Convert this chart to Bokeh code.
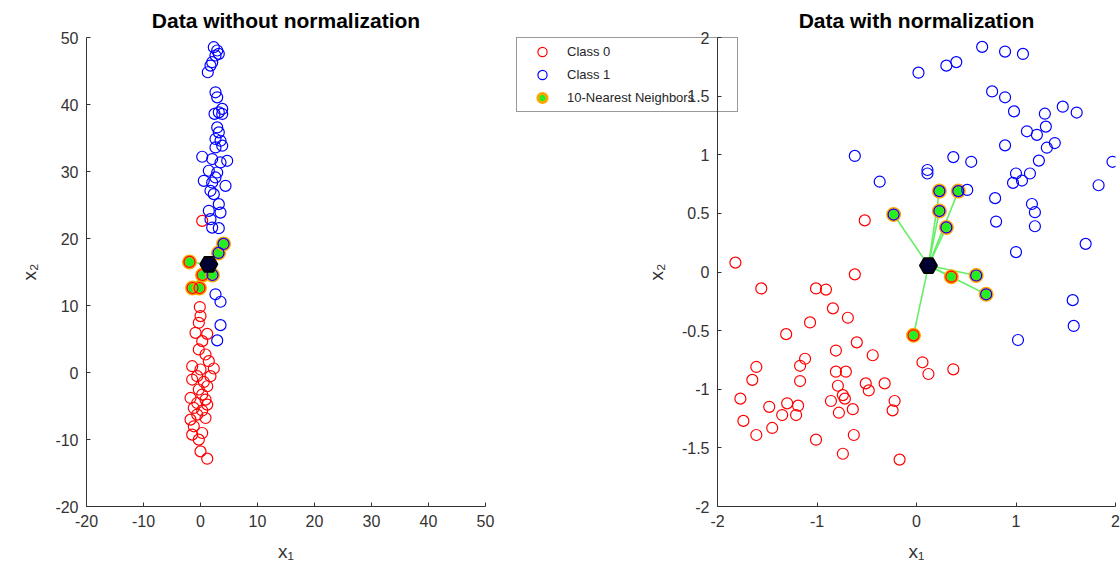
from bokeh.plotting import figure
from bokeh.models import Range1d, Legend, LegendItem, FixedTicker
from bokeh.layouts import row
from bokeh.embed import file_html
from bokeh.resources import INLINE

# ---------------- raw data (left panel) ----------------
raw_c0_x = [0.30, -0.12, 0.00, -0.30, -0.88, 1.18, 0.30, -0.30, 0.88, 1.46, -1.46, 0.00, 2.33,
            -0.58, 1.75, -1.46, 0.58, 1.18, -0.30, 0.30, -1.75, 0.88, -0.58, 1.18, -1.18, 0.30,
            -0.58, -1.75, 0.88, -1.18, 0.30, -1.46, -0.30, 0.00, 1.18]
raw_c0_y = [22.63, 9.77, 8.42, 7.42, 5.92, 5.77, 4.68, 3.44, 2.69, 1.69, 0.94, 0.45, 0.60,
            -0.55, -0.55, -1.05, -1.41, -2.05, -2.54, -3.29, -3.80, -4.04, -4.55, -4.79, -5.29, -5.68,
            -6.28, -7.03, -6.79, -8.03, -9.03, -9.27, -10.02, -11.77, -12.86]
raw_c1_x = [2.33, 2.93, 3.21, 2.63, 2.05, 1.75, 1.28, 2.63, 2.93, 3.81, 3.21, 3.81, 2.46,
            2.93, 3.21, 2.63, 3.51, 3.81, 2.63, 0.30, 2.05, 4.68, 3.51, 1.46, 2.93, 2.63,
            0.58, 2.05, 4.39, 1.75, 2.33, 3.21, 1.46, 3.51, 1.75, 2.05, 3.21, 2.63, 3.51,
            3.51, 2.93]
raw_c1_y = [48.55, 48.06, 47.56, 47.31, 46.31, 45.81, 44.81, 41.82, 41.07, 39.34, 38.83, 38.59, 38.60,
            36.58, 35.84, 34.85, 34.59, 33.85, 33.59, 32.20, 31.86, 31.60, 31.35, 30.11, 29.85, 29.11,
            28.61, 28.36, 27.86, 27.12, 26.62, 25.13, 24.13, 23.87, 22.88, 21.63, 21.54, 11.67, 10.56,
            7.07, 4.79]
raw_nb_x = [-1.93, 3.16, 4.04, 0.35, 2.10, -1.40, -0.18]
raw_nb_y = [16.50, 17.84, 19.19, 14.55, 14.55, 12.61, 12.61]
raw_nb_cls = [0, 1, 1, 0, 1, 0, 0]
raw_query = (1.46, 16.15)

# ---------------- normalized data (right panel) ----------------
nrm_c0_x = [-1.82, -1.56, -1.01, -0.91, -0.62, -0.84, -0.69, -1.07, -1.31, -0.60, -0.81, -0.44,
            -1.12, -1.17, -1.61, -1.65, -1.17, -0.81, -0.71, -0.79, -0.51, -0.48, -0.32, -0.74,
            -0.72, -0.86, -1.77, -1.48, -1.30, -1.19, -1.21, -1.35, -0.78, -0.64, -0.22, -0.24,
            -1.74, -1.61, -1.45, -1.01, -0.63, -0.74, -0.17, -0.52, 0.06, 0.12, 0.37]
nrm_c0_y = [0.08, -0.14, -0.14, -0.15, -0.02, -0.31, -0.39, -0.43, -0.53, -0.60, -0.67, -0.71,
            -0.74, -0.80, -0.81, -0.92, -0.93, -0.85, -0.85, -0.97, -0.95, -1.01, -0.95, -1.05,
            -1.08, -1.10, -1.08, -1.15, -1.12, -1.14, -1.22, -1.22, -1.20, -1.17, -1.10, -1.18,
            -1.27, -1.39, -1.33, -1.43, -1.39, -1.55, -1.60, 0.44, -0.77, -0.87, -0.83]
nrm_c1_x = [0.02, 0.30, 0.40, 0.66, 0.89, 1.07, 0.76, 0.89, 0.98, 1.29, 1.47, 1.61, 1.30, 1.11,
            1.21, 0.89, 1.39, 1.31, 1.23, 0.37, 0.55, 0.11, 0.11, 1.97, 1.83, 1.00, 1.14, 0.97,
            1.06, 0.51, 0.79, 1.16, 1.19, 0.80, 1.19, -0.62, -0.37, 1.70, 1.00, 1.57, 1.58, 1.02]
nrm_c1_y = [1.70, 1.76, 1.79, 1.92, 1.88, 1.86, 1.54, 1.49, 1.37, 1.35, 1.41, 1.36, 1.24, 1.20,
            1.17, 1.08, 1.10, 1.06, 0.95, 0.98, 0.94, 0.87, 0.84, 0.94, 0.74, 0.84, 0.84, 0.76,
            0.78, 0.70, 0.63, 0.58, 0.51, 0.43, 0.39, 0.99, 0.77, 0.24, 0.17, -0.24, -0.46, -0.58]
nrm_nb_x = [-0.23, 0.23, 0.42, 0.23, 0.30, 0.35, 0.60, 0.70, -0.03]
nrm_nb_y = [0.49, 0.69, 0.69, 0.52, 0.38, -0.04, -0.03, -0.19, -0.54]
nrm_nb_cls = [1, 1, 1, 1, 1, 0, 1, 1, 0]
nrm_query = (0.12, 0.055)

titles = ["Data without normalization", "Data with normalization"]
legend_labels = ["Class 0", "Class 1", "10-Nearest Neighbors"]
raw_ticks = [-20, -10, 0, 10, 20, 30, 40, 50]
nrm_xticks = [-2, -1, 0, 1, 2]
nrm_yticks = [-2, -1.5, -1, -0.5, 0, 0.5, 1, 1.5, 2]

RED = "#ff0000"
BLUE = "#0000ff"
ORANGE = "#ffa500"
GREEN = "#22ee22"
LINK = "#66ee66"
AX = "#333333"
FONT = "Liberation Sans"

# page geometry (pixels)
H = 569
TOP, BOTTOM = 37, 63
LEG_W = 240          # strip that carries the shared legend
R_SHIFT = 240        # right figure slides back over the legend strip

MARK0 = dict(marker="circle", size=11, fill_color=None, line_color=RED, line_width=1.2)
MARK1 = dict(marker="circle", size=11, fill_color=None, line_color=BLUE, line_width=1.2)
MARKNB = dict(marker="circle", size=12, fill_color=GREEN, line_color=ORANGE, line_width=3)


def label_of(v):
    return str(int(v)) if float(v).is_integer() else str(v)


def make_panel(title, xr, yr, xt, yt, c0x, c0y, c1x, c1y, nbx, nby, nbc, q,
               width, border_left, border_right, transparent=False):
    p = figure(width=width, height=H, x_range=Range1d(*xr), y_range=Range1d(*yr),
               output_backend="svg", toolbar_location=None,
               min_border_left=border_left, min_border_right=border_right,
               min_border_top=TOP, min_border_bottom=BOTTOM)
    p.outline_line_color = None
    p.grid.visible = False
    if transparent:
        p.background_fill_alpha = 0
        p.border_fill_alpha = 0
    else:
        p.background_fill_color = "white"
        p.border_fill_color = "white"

    p.title.text = title
    p.title.align = "center"
    p.title.text_font = FONT
    p.title.text_font_size = "21px"
    p.title.text_font_style = "bold"
    p.title.text_color = "#000000"
    p.title.standoff = 12

    for ax, ticks in ((p.xaxis[0], xt), (p.yaxis[0], yt)):
        ax.ticker = FixedTicker(ticks=ticks)
        ax.major_label_overrides = {t: label_of(t) for t in ticks}
        ax.axis_line_color = AX
        ax.axis_line_width = 1
        ax.major_tick_line_color = AX
        ax.major_tick_in = 4
        ax.major_tick_out = 0
        ax.minor_tick_line_color = None
        ax.major_label_text_font = FONT
        ax.major_label_text_font_size = "16px"
        ax.major_label_text_color = AX
        ax.axis_label_text_font = FONT
        ax.axis_label_text_font_size = "19px"
        ax.axis_label_text_font_style = "normal"
        ax.axis_label_text_color = AX
        ax.major_label_standoff = 8
    p.xaxis[0].axis_label = "x\u2081"
    p.yaxis[0].axis_label = "x\u2082"
    p.xaxis[0].axis_label_standoff = 11
    p.yaxis[0].axis_label_standoff = 12

    # links from the query point to each neighbour
    p.segment(x0=[q[0]] * len(nbx), y0=[q[1]] * len(nby), x1=nbx, y1=nby,
              line_color=LINK, line_width=1.6)
    p.scatter(nbx, nby, **MARKNB)
    p.scatter(c0x, c0y, **MARK0)
    p.scatter(c1x, c1y, **MARK1)
    ring = dict(MARK0, line_color=[RED if c == 0 else BLUE for c in nbc])
    p.scatter(nbx, nby, **ring)
    p.scatter([q[0]], [q[1]], marker="hex", size=17, fill_color="#000033",
              line_color="#000000", line_width=2)
    return p


left = make_panel(titles[0], (-20, 50), (-20, 50), raw_ticks, raw_ticks,
                  raw_c0_x, raw_c0_y, raw_c1_x, raw_c1_y,
                  raw_nb_x, raw_nb_y, raw_nb_cls, raw_query,
                  width=500, border_left=86, border_right=15)

right = make_panel(titles[1], (-2, 2), (-2, 2), nrm_xticks, nrm_yticks,
                   nrm_c0_x, nrm_c0_y, nrm_c1_x, nrm_c1_y,
                   nrm_nb_x, nrm_nb_y, nrm_nb_cls, nrm_query,
                   width=620, border_left=217, border_right=5, transparent=True)
right.margin = (0, 0, 0, -R_SHIFT)

# legend strip: swatch renderers share the panels' glyph styles and sit on a
# single point outside the strip's visible range, so only the legend shows;
# its frame lines up with the panels' frames (top 37, bottom 505)
leg = figure(width=LEG_W, height=H, x_range=Range1d(0, 1), y_range=Range1d(0, 1),
             x_axis_type=None, y_axis_type=None, output_backend="svg",
             toolbar_location=None, min_border=0)
leg.outline_line_color = None
leg.grid.visible = False
off = ([-5.0], [-5.0])
l0 = leg.scatter(*off, **MARK0)
l1 = leg.scatter(*off, **MARK1)
lnb = leg.scatter(*off, **MARKNB)
legend = Legend(items=[LegendItem(label=legend_labels[0], renderers=[l0]),
                       LegendItem(label=legend_labels[1], renderers=[l1]),
                       LegendItem(label=legend_labels[2], renderers=[lnb])],
                location=(16, 394), padding=2, spacing=0, margin=0,
                glyph_width=46, glyph_height=23, label_height=23, label_width=168,
                label_standoff=2, label_text_font=FONT, label_text_font_size="13px",
                label_text_color="#262626", border_line_color=AX, border_line_width=1,
                background_fill_alpha=0)
leg.add_layout(legend)

page = row(left, leg, right)
open("out.html", "w").write(file_html(page, INLINE))
